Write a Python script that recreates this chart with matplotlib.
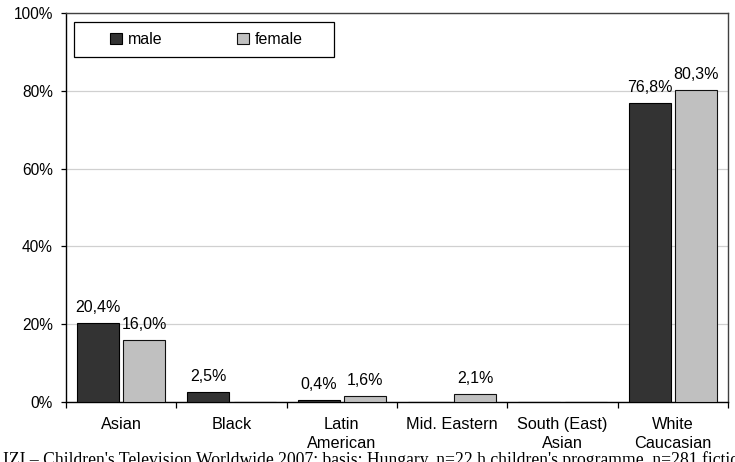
import matplotlib
matplotlib.use("Agg")
import matplotlib.pyplot as plt
import numpy as np
from matplotlib.ticker import FixedLocator, NullFormatter
from matplotlib.patches import Rectangle

categories = ["Asian", "Black", "Latin\nAmerican", "Mid. Eastern", "South (East)\nAsian", "White\nCaucasian"]
male = [20.4, 2.5, 0.4, 0.0, 0.0, 76.8]
female = [16.0, 0.0, 1.6, 2.1, 0.0, 80.3]
yticks = [0, 20, 40, 60, 80, 100]
source = ("IZI \u2013 Children's Television Worldwide 2007; basis: Hungary, "
          "n=22 h children's programme, n=281 fictional characters")

plt.rcParams["font.family"] = ["Liberation Sans", "DejaVu Sans"]

W, H = 735, 462
fig = plt.figure(figsize=(W / 100, H / 100), dpi=100)
L, R, T, B = 66, 728, 13, 402
ax = fig.add_axes([L / W, 1 - B / H, (R - L) / W, (B - T) / H])

x = np.arange(len(categories))
w = 0.38
off = 0.21
dark = "#333333"
light = "#c0c0c0"
ax.bar(x - off, male, w, color=dark, edgecolor="#000000", linewidth=0.8, label="male", zorder=3)
ax.bar(x + off, female, w, color=light, edgecolor="#111111", linewidth=0.8, label="female", zorder=3)

def fmt(v):
    return f"{v:.1f}".replace(".", ",") + "%"

for xs, vals in ((x - off, male), (x + off, female)):
    for xi, v in zip(xs, vals):
        if v > 0:
            ax.annotate(fmt(v), (xi, v), xytext=(0, 8), textcoords="offset points",
                        ha="center", va="baseline", fontsize=11.5)

ax.set_xlim(-0.5, len(categories) - 0.5)
ax.set_ylim(0, 100)
ax.set_yticks(yticks)
ax.set_yticklabels([f"{t}%" for t in yticks], fontsize=11.2)
ax.yaxis.grid(True, color="#d0d0d0", linewidth=0.9, zorder=0)
ax.set_axisbelow(True)

ax.set_xticks(x)
ax.set_xticklabels(categories, fontsize=11.7, linespacing=1.3)
ax.tick_params(axis="x", which="major", length=0, pad=11)
ax.xaxis.set_minor_locator(FixedLocator(np.arange(-0.5, len(categories), 1.0)))
ax.xaxis.set_minor_formatter(NullFormatter())
ax.tick_params(axis="x", which="minor", length=4, width=0.9, direction="out")
ax.tick_params(axis="y", length=3.5, width=0.9, direction="out", pad=6)

for s in ["left", "bottom"]:
    ax.spines[s].set_color("#000000")
    ax.spines[s].set_linewidth(1.0)
for s in ["top", "right"]:
    ax.spines[s].set_color("#404040")
    ax.spines[s].set_linewidth(1.0)

# legend box with two entries
def px_to_ax(px, py):
    return (px - L) / (R - L), (B - py) / (B - T)

bx0, by0 = px_to_ax(74, 57)
bx1, by1 = px_to_ax(334, 22)
ax.add_patch(Rectangle((bx0, by0), bx1 - bx0, by1 - by0, transform=ax.transAxes,
                       facecolor="white", edgecolor="#000000", linewidth=0.9, zorder=5))
leg = ax.legend(loc="center left", bbox_to_anchor=px_to_ax(110, 39.5),
                ncol=2, frameon=False, fontsize=11.5, handlelength=0.75,
                handleheight=0.75, handletextpad=0.35, columnspacing=4.7,
                borderpad=0, borderaxespad=0)
leg.set_zorder(6)

fig.text(3 / W, 1 - 451 / H, source, ha="left", va="top", fontsize=12.7,
         family=["Liberation Serif", "DejaVu Serif"])

fig.savefig("out.png", dpi=100)
